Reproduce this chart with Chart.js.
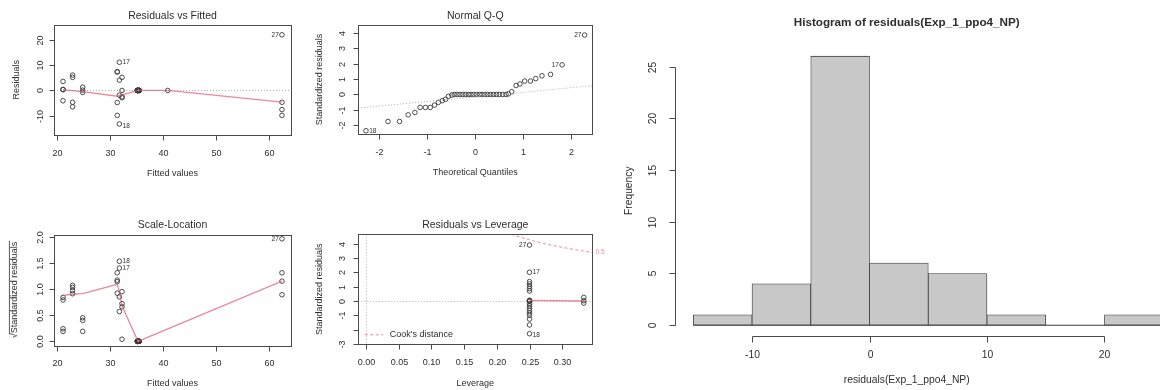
<!DOCTYPE html>
<html>
<head>
<meta charset="utf-8">
<script src="https://cdn.jsdelivr.net/npm/chart.js@4.4.1/dist/chart.umd.min.js"></script>
<style>
  html, body { margin: 0; padding: 0; background: #fff; width: 1160px; height: 390px; overflow: hidden; }
  canvas { position: absolute; }
</style>
</head>
<body>
<canvas id="rvf" style="left:0;top:0" width="300" height="195"></canvas>
<canvas id="qq" style="left:300px;top:0" width="300" height="195"></canvas>
<canvas id="sl" style="left:0;top:195px" width="300" height="195"></canvas>
<canvas id="lev" style="left:300px;top:195px" width="320" height="195"></canvas>
<canvas id="hist" style="left:600px;top:0" width="600" height="390"></canvas>
<script>
// Residuals vs Fitted
const fittedVals = [21.2, 21.2, 21.2, 21.2, 23.0, 23.0, 23.0, 23.0, 24.9, 24.9, 24.9,
  31.4, 31.4, 31.4, 31.4, 31.8, 31.8, 31.8, 31.8, 32.3, 32.3, 32.3, 32.3,
  35.2, 35.2, 35.2, 35.2, 35.2, 35.2, 35.2, 35.2, 35.5, 35.5, 35.5, 35.5, 35.5, 35.5, 35.5, 35.5,
  40.9, 62.4, 62.4, 62.4, 62.4];
const residVals = [3.6, 0.3, 0.4, -4.1, 6.1, 5.2, -4.7, -6.5, 1.3, 0.1, -0.8,
  7.5, 7.3, -4.8, -9.9, 11.2, 4.1, -1.9, -13.3, 5.2, 0.0, -2.5, -2.9,
  0, 0, 0, 0, 0, 0, 0, 0, 0, 0, 0, 0, 0, 0, 0, 0,
  0, 22.1, -4.7, -7.6, -9.9];
const rvfSmoothX = [21.2, 24.9, 31.4, 31.8, 32.3, 35.3, 40.9, 62.4];
const rvfSmoothY = [0.3, -0.5, -2.3, -2.1, -1.8, 0.0, 0.0, -4.6];

// Normal Q-Q
const theoQuant = [-2.28, -1.82, -1.58, -1.40, -1.26, -1.15, -1.04, -0.94, -0.85, -0.77, -0.69, -0.62, -0.56, -0.49,
  -0.44, -0.38, -0.32, -0.26, -0.20, -0.14, -0.09, -0.03, 0.03, 0.09, 0.14, 0.20, 0.26, 0.32, 0.38, 0.44, 0.50, 0.57, 0.64,
  0.69, 0.76, 0.85, 0.93, 1.03, 1.15, 1.26, 1.39, 1.57, 1.81, 2.28];
const stdResidSorted = [-2.35, -1.75, -1.75, -1.32, -1.17, -0.84, -0.84, -0.84, -0.69, -0.51, -0.40, -0.31, -0.12, -0.04,
  0, 0, 0, 0, 0, 0, 0, 0, 0, 0, 0, 0, 0, 0, 0, 0, 0, 0, 0,
  0.04, 0.18, 0.58, 0.68, 0.87, 0.87, 1.03, 1.21, 1.30, 1.92, 3.85];
const qqLineX = [-2.44, 2.44];
const qqLineY = [-0.88, 0.57];

// Scale-Location
const slFitted = [21.2, 21.2, 21.2, 21.2, 23.0, 23.0, 23.0, 23.0, 24.9, 24.9, 24.9,
  31.4, 31.4, 31.4, 31.4, 31.8, 31.8, 31.8, 31.8, 32.3, 32.3, 32.3, 32.3,
  35.2, 35.2, 35.2, 35.2, 35.2, 35.2, 35.2, 35.2, 35.5, 35.5, 35.5, 35.5, 35.5, 35.5, 35.5, 35.5,
  62.4, 62.4, 62.4, 62.4];
const slSqrtStd = [0.79, 0.19, 0.24, 0.84, 1.07, 0.97, 0.91, 1.03, 0.45, 0.19, 0.40,
  1.14, 1.17, 0.92, 1.31, 1.40, 0.85, 0.57, 1.53, 0.95, 0.04, 0.66, 0.72,
  0, 0, 0, 0, 0, 0, 0, 0, 0, 0, 0, 0, 0, 0, 0, 0,
  1.96, 0.89, 1.15, 1.31];
const slSmoothX = [21.2, 23.0, 24.9, 31.4, 31.8, 32.3, 35.3, 62.4];
const slSmoothY = [0.88, 0.90, 0.91, 1.09, 0.95, 0.68, 0.0, 1.15];

// Residuals vs Leverage
const leverage = [0.25, 0.25, 0.25, 0.25, 0.25, 0.25, 0.25, 0.25, 0.25, 0.25, 0.25, 0.25,
  0.25, 0.25, 0.25, 0.25, 0.25, 0.25, 0.25, 0.25, 0.25, 0.333, 0.333, 0.333];
const levStdResid = [3.9, 2.0, 1.35, 1.19, 1.02, 0.86, 0.70, 0.05, 0, 0, 0, 0,
  -0.19, -0.35, -0.51, -0.67, -0.84, -1.0, -1.26, -1.67, -2.28, 0.25, 0.02, -0.15];
const levSmoothX = [0.25, 0.333];
const levSmoothY = [0.04, 0.0];
const cookX = [0.222, 0.25, 0.275, 0.30, 0.325, 0.346];
const cookY = [4.65, 4.26, 3.97, 3.74, 3.54, 3.38];

// Histogram
const binEdges = [-15, -10, -5, 0, 5, 10, 15, 20, 25];
const binCounts = [1, 4, 26, 6, 5, 1, 0, 1];

// tick labels
const rvfXTicks = [20, 30, 40, 50, 60];
const rvfYTicks = [-10, 0, 10, 20];
const qqXTicks = [-2, -1, 0, 1, 2];
const qqYTicks = [-2, -1, 0, 1, 2, 3, 4];
const slYTicks = [0, 0.5, 1, 1.5, 2];
const slYLabels = ['0.0', '0.5', '1.0', '1.5', '2.0'];
const levXTicks = [0, 0.05, 0.10, 0.15, 0.20, 0.25, 0.30];
const levXLabels = ['0.00', '0.05', '0.10', '0.15', '0.20', '0.25', '0.30'];
const levYTicks = [-3, -2, -1, 0, 1, 2, 3, 4];
const levYLabels = ['-3', '', '-1', '0', '1', '2', '3', '4'];
const histXTicks = [-10, 0, 10, 20];
const histYTicks = [0, 5, 10, 15, 20, 25];

const FONT = '"Liberation Sans", Arial, Helvetica, sans-serif';
const INK = '#2e2e2e';
const RED = 'rgba(223,83,107,0.68)';

const zip = (xs, ys) => xs.map((v, i) => ({ x: v, y: ys[i] }));

function text(ctx, s, x, y, size, o = {}) {
  ctx.save();
  ctx.font = (o.bold ? 'bold ' : '') + size + 'px ' + FONT;
  ctx.fillStyle = o.color || INK;
  ctx.textAlign = o.align || 'center';
  ctx.textBaseline = 'middle';
  ctx.translate(x, y);
  if (o.rot) ctx.rotate(-Math.PI / 2);
  ctx.fillText(s, 0, 0);
  if (o.sqrt) {
    // overline for the square root sign
    const w = ctx.measureText(s).width;
    const w0 = ctx.measureText('√').width;
    ctx.strokeStyle = o.color || INK;
    ctx.lineWidth = 0.8;
    ctx.beginPath();
    ctx.moveTo(-w / 2 + w0 - 1, -size * 0.62);
    ctx.lineTo(w / 2 + 1, -size * 0.62);
    ctx.stroke();
  }
  ctx.restore();
}

// R style frame: box, axes, tick labels, titles, point labels
const rFrame = {
  id: 'rFrame',
  beforeDatasetsDraw(chart, args, o) {
    const { ctx, chartArea: a, scales } = chart;
    ctx.save();
    ctx.beginPath();
    ctx.rect(a.left, a.top, a.right - a.left, a.bottom - a.top);
    ctx.clip();
    ctx.strokeStyle = '#b0b0b0';
    ctx.lineWidth = 1;
    ctx.setLineDash([1, 2]);
    (o.hRef || []).forEach(v => {
      const py = Math.round(scales.y.getPixelForValue(v)) + 0.5;
      ctx.beginPath(); ctx.moveTo(a.left, py); ctx.lineTo(a.right, py); ctx.stroke();
    });
    (o.vRef || []).forEach(v => {
      const px = Math.round(scales.x.getPixelForValue(v)) + 0.5;
      ctx.beginPath(); ctx.moveTo(px, a.top); ctx.lineTo(px, a.bottom); ctx.stroke();
    });
    ctx.restore();
  },
  afterDraw(chart, args, o) {
    const { ctx, chartArea: a, scales: { x, y } } = chart;
    const L = Math.round(a.left) + 0.5, B = Math.round(a.bottom) + 0.5;
    ctx.save();
    ctx.strokeStyle = '#4a4a4a';
    ctx.lineWidth = 1;
    if (o.box) {
      ctx.strokeRect(L, Math.round(a.top) + 0.5, Math.round(a.right) - Math.round(a.left), Math.round(a.bottom) - Math.round(a.top));
    }
    const xp = o.xTicks.map(v => Math.round(x.getPixelForValue(v)) + 0.5);
    const yp = o.yTicks.map(v => Math.round(y.getPixelForValue(v)) + 0.5);
    ctx.beginPath();
    ctx.moveTo(xp[0], B); ctx.lineTo(xp[xp.length - 1], B);
    xp.forEach(px => { ctx.moveTo(px, B); ctx.lineTo(px, B + o.tick); });
    ctx.moveTo(L, yp[0]); ctx.lineTo(L, yp[yp.length - 1]);
    yp.forEach(py => { ctx.moveTo(L, py); ctx.lineTo(L - o.tick, py); });
    ctx.stroke();
    ctx.restore();

    xp.forEach((px, i) => text(ctx, o.xLabels ? o.xLabels[i] : String(o.xTicks[i]), px, a.bottom + o.xTickOff, o.tickSize));
    yp.forEach((py, i) => text(ctx, o.yLabels ? o.yLabels[i] : String(o.yTicks[i]), a.left + o.yTickOff, py, o.tickSize, { rot: true }));

    const cx = o.cx !== undefined ? o.cx : (a.left + a.right) / 2;
    text(ctx, o.main, cx, a.top + o.mainOff, o.mainSize, { bold: o.mainBold });
    text(ctx, o.xlab, cx, a.bottom + o.xlabOff, o.labSize);
    text(ctx, o.ylab, a.left + o.ylabOff, (a.top + a.bottom) / 2, o.labSize, { rot: true, sqrt: o.ylabSqrt });

    (o.pointLabels || []).forEach(p => {
      const el = chart.getDatasetMeta(p.ds).data[p.i];
      const size = p.size || 6.5;
      if (p.side === 'l') text(ctx, p.text, el.x - 3.2, el.y, size, { align: 'right', color: p.color });
      else if (p.side === 'rb') text(ctx, p.text, el.x + 3.2, el.y + 1.8, size, { align: 'left', color: p.color });
      else text(ctx, p.text, el.x + 3.2, el.y, size, { align: 'left', color: p.color });
    });

    if (o.cookLegend) {
      const ly = a.bottom - 9.5;
      ctx.save();
      ctx.strokeStyle = RED;
      ctx.lineWidth = 1;
      ctx.setLineDash([3, 2.5]);
      ctx.beginPath(); ctx.moveTo(a.left + 6.5, ly); ctx.lineTo(a.left + 25, ly); ctx.stroke();
      ctx.restore();
      text(ctx, "Cook's distance", a.left + 31.5, ly, 9, { align: 'left' });
    }
  }
};

const smallFrame = {
  box: true, tick: 5, tickSize: 9, labSize: 9, mainSize: 10.5, mainOff: -9,
  xTickOff: 18.8, xlabOff: 39
};

function scatterOpts(pad, xr, yr, frame) {
  return {
    responsive: false,
    animation: false,
    devicePixelRatio: 1,
    events: [],
    layout: { padding: pad },
    plugins: {
      legend: { display: false },
      tooltip: { enabled: false },
      rFrame: Object.assign({}, smallFrame, frame)
    },
    scales: {
      x: { type: 'linear', display: false, offset: false, min: xr[0], max: xr[1] },
      y: { type: 'linear', display: false, min: yr[0], max: yr[1] }
    }
  };
}

const pts = data => ({
  data, pointStyle: 'circle', pointRadius: 2.3, borderWidth: 0.9,
  borderColor: '#3a3a3a', backgroundColor: 'rgba(0,0,0,0)', showLine: false
});
const lineDs = (data, color, dash, width) => ({
  data, showLine: true, pointRadius: 0, borderColor: color,
  borderWidth: width || 1.3, borderDash: dash || [], fill: false, tension: 0
});

Chart.register(rFrame);

new Chart(document.getElementById('rvf'), {
  type: 'scatter',
  data: { datasets: [lineDs(zip(rvfSmoothX, rvfSmoothY), RED), pts(zip(fittedVals, residVals))] },
  options: scatterOpts({ left: 54, right: 9, top: 25, bottom: 60.5 }, [19.5, 64.1], [-17.5, 26], {
    xTicks: rvfXTicks, yTicks: rvfYTicks, yTickOff: -13.5, ylabOff: -37.5, hRef: [0],
    main: 'Residuals vs Fitted', xlab: 'Fitted values', ylab: 'Residuals',
    pointLabels: [{ ds: 1, i: 40, text: '27', side: 'l' }, { ds: 1, i: 15, text: '17', side: 'r' }, { ds: 1, i: 18, text: '18', side: 'rb' }]
  })
});

new Chart(document.getElementById('qq'), {
  type: 'scatter',
  data: { datasets: [lineDs(zip(qqLineX, qqLineY), '#b0b0b0', [1, 2], 1), pts(zip(theoQuant, stdResidSorted))] },
  options: scatterOpts({ left: 58.3, right: 7.7, top: 25, bottom: 61 }, [-2.44, 2.44], [-2.56, 4.5], {
    xTicks: qqXTicks, yTicks: qqYTicks, yTickOff: -16, ylabOff: -38.3,
    main: 'Normal Q-Q', xlab: 'Theoretical Quantiles', ylab: 'Standardized residuals',
    pointLabels: [{ ds: 1, i: 43, text: '27', side: 'l' }, { ds: 1, i: 42, text: '17', side: 'l' }, { ds: 1, i: 0, text: '18', side: 'r' }]
  })
});

new Chart(document.getElementById('sl'), {
  type: 'scatter',
  data: { datasets: [lineDs(zip(slSmoothX, slSmoothY), RED), pts(zip(slFitted, slSqrtStd))] },
  options: scatterOpts({ left: 54, right: 9, top: 39.6, bottom: 44.5 }, [19.5, 64.1], [-0.08, 2.04], {
    xTicks: rvfXTicks, yTicks: slYTicks, yLabels: slYLabels, yTickOff: -13.5, ylabOff: -39, xTickOff: 18.5, xlabOff: 38,
    main: 'Scale-Location', xlab: 'Fitted values', ylab: '√Standardized residuals', ylabSqrt: true,
    pointLabels: [{ ds: 1, i: 39, text: '27', side: 'l' }, { ds: 1, i: 15, text: '17', side: 'r' }, { ds: 1, i: 18, text: '18', side: 'r' }]
  })
});

new Chart(document.getElementById('lev'), {
  type: 'scatter',
  data: {
    datasets: [
      lineDs(zip(levSmoothX, levSmoothY), RED),
      lineDs(zip(cookX, cookY), RED, [3, 2.5], 1),
      pts(zip(leverage, levStdResid))
    ]
  },
  options: scatterOpts({ left: 58.3, right: 27.7, top: 39.3, bottom: 45.7 }, [-0.0118, 0.346], [-3.02, 4.65], {
    xTicks: levXTicks, xLabels: levXLabels, yTicks: levYTicks, yLabels: levYLabels, yTickOff: -16, ylabOff: -38.3,
    xTickOff: 18.4, xlabOff: 39.7, hRef: [0], vRef: [0], cookLegend: true,
    main: 'Residuals vs Leverage', xlab: 'Leverage', ylab: 'Standardized residuals',
    pointLabels: [
      { ds: 2, i: 0, text: '27', side: 'l' }, { ds: 2, i: 1, text: '17', side: 'r' }, { ds: 2, i: 20, text: '18', side: 'rb' },
      { ds: 1, i: 5, text: '0.5', side: 'r', color: RED }
    ]
  })
});

const binMids = binCounts.map((c, i) => (binEdges[i] + binEdges[i + 1]) / 2);

new Chart(document.getElementById('hist'), {
  type: 'bar',
  data: {
    datasets: [
      {
        type: 'line', data: [{ x: binEdges[0], y: 0 }, { x: binEdges[binEdges.length - 1], y: 0 }],
        borderColor: '#3a3a3a', borderWidth: 1, pointRadius: 0, fill: false
      },
      {
        type: 'bar', data: zip(binMids, binCounts),
        backgroundColor: '#c8c8c8', borderColor: '#3a3a3a', borderWidth: 0.8, borderSkipped: false,
        barPercentage: 1, categoryPercentage: 1
      }
    ]
  },
  options: {
    responsive: false,
    animation: false,
    devicePixelRatio: 1,
    events: [],
    layout: { padding: { left: 74.5, right: 18, top: 45.4, bottom: 54 } },
    plugins: {
      legend: { display: false },
      tooltip: { enabled: false },
      rFrame: {
        box: false, tick: 6, tickSize: 10.3, labSize: 10.3, mainSize: 11.7, mainBold: true,
        mainOff: -22.4, xTickOff: 19, xlabOff: 44, yTickOff: -21.5, ylabOff: -45.5, cx: 306.7,
        xTicks: histXTicks, yTicks: histYTicks,
        main: 'Histogram of residuals(Exp_1_ppo4_NP)', xlab: 'residuals(Exp_1_ppo4_NP)', ylab: 'Frequency'
      }
    },
    scales: {
      x: { type: 'linear', display: false, offset: false, min: -16.6, max: 26.6 },
      y: { type: 'linear', display: false, min: -1.04, max: 27.04 }
    }
  }
});
</script>
</body>
</html>
